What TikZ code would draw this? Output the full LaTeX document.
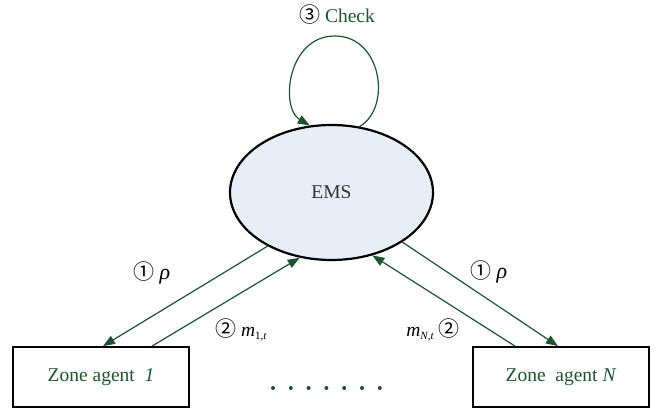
\documentclass[tikz,border=0pt]{standalone}
\usepackage{fontspec}
\setmainfont{Liberation Serif}
\newfontfamily\symfont{Noto Sans CJK SC}
\usetikzlibrary{arrows.meta,shapes.geometric}
\definecolor{dgreen}{RGB}{28,84,48}
\definecolor{emsfill}{RGB}{232,238,248}
\definecolor{emstext}{RGB}{51,51,51}
\newcommand{\cnum}[1]{{\symfont\fontsize{21}{24}\selectfont #1}}
\begin{document}
\begin{tikzpicture}[x=1pt,y=-1pt,
  conn/.style={draw=dgreen, line width=1.2pt, -{Triangle[length=12pt,width=9pt]}},
  loopline/.style={draw=dgreen, line width=1.2pt},
  zone/.style={draw=black, line width=1.8pt, minimum width=176pt, minimum height=60pt, inner sep=0pt, text=dgreen, font=\fontsize{19.5}{22}\selectfont},
  emsnode/.style={ellipse, draw=black, line width=2.2pt, fill=emsfill, minimum width=203pt, minimum height=135pt, inner sep=0pt, text=emstext, font=\fontsize{19.5}{22}\selectfont},
  lbl/.style={font=\fontsize{19.5}{22}\selectfont, inner sep=0pt},
  dotmark/.style={fill=dgreen}
]
\useasboundingbox (0,0) rectangle (657,409);

\node[emsnode] (ems) at (331.5,192.5) {EMS};
\node[zone] (z1) at (101,377) {Zone agent\ \ \textit{1}};
\node[zone] (zN) at (561,377) {Zone\ \ agent \textit{N}};

% self loop
\coordinate (looptop) at (335,36);
\draw[loopline] (ems.67) .. controls (392,108) and (382,36) .. (looptop);
\draw[conn] (looptop) .. controls (287,36) and (280,108) .. (ems.108);

% arrows
\draw[conn] (ems.220.6) -- ([xshift=2pt]z1.north);
\draw[conn] ([xshift=51pt]z1.north) -- (ems.244);
\draw[conn] ([xshift=-46pt]zN.north) -- (ems.303.6);
\draw[conn] (ems.325.3) -- ([xshift=-3pt]zN.north);

% labels
\node[lbl] (chk) at (337,15) {\cnum{③}\ \textcolor{dgreen}{Check}};
\node[lbl] (rho1) at (152,273) {\cnum{①}\ {\fontsize{22}{22}\selectfont\textit{ρ}}};
\node[lbl] (m1) at (241,330) {\cnum{②}\ \textit{m}\raisebox{-3pt}{\fontsize{11}{11}\selectfont 1,\textit{t}}};
\node[lbl] (rhoN) at (489,272) {\cnum{①}\ {\fontsize{22}{22}\selectfont\textit{ρ}}};
\node[lbl] (mN) at (433,330) {\textit{m}\raisebox{-3pt}{\fontsize{11}{11}\selectfont\textit{N},\textit{t}}\ \cnum{②}};

% dots
\foreach \i in {0,...,6} {
  \fill[dotmark] (273+17.8*\i, 388) circle (2pt);
}
\end{tikzpicture}
\end{document}
